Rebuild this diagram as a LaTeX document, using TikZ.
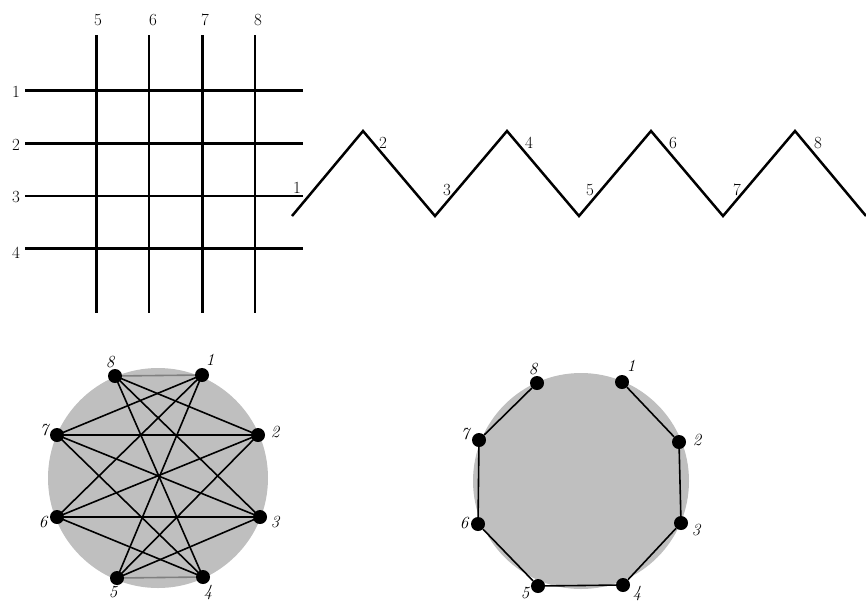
\documentclass[tikz,border=0pt]{standalone}
\usepackage{fontspec}
\begin{document}
\begin{tikzpicture}[x=1pt,y=-1pt,
  zig/.style={line width=2.5pt, line join=miter},
  lab/.style={font=\fontsize{17}{20}\selectfont, inner sep=0pt},
  vtx/.style={circle, fill=black, minimum size=14pt, inner sep=0pt},
  vlab/.style={font=\fontsize{17}{20}\selectfont\itshape, inner sep=0pt},
  gedge/.style={line width=1.6pt},
  faint/.style={line width=1.6pt, draw=black!50},
  disc/.style={fill=black!25}]
\useasboundingbox (0,0) rectangle (866,603);

% ---------- grid ----------
\foreach \y/\w in {90.5/2.6,143.5/2.4,195.7/2.4,248/3.0}
  \draw[line width=\w pt] (25,\y) -- (303,\y);
\foreach \x/\w in {96.7/2.6,149/2.2,202/3.0,255/2.4}
  \draw[line width=\w pt] (\x,35) -- (\x,313);
\node[lab] (r1) at (16,92) {1};
\node[lab] (r2) at (16,145) {2};
\node[lab] (r3) at (16,197) {3};
\node[lab] (r4) at (16,253) {4};
\node[lab] (c5) at (98,20) {5};
\node[lab] (c6) at (153,20) {6};
\node[lab] (c7) at (205,20) {7};
\node[lab] (c8) at (258,20) {8};

% ---------- zigzag ----------
\draw[zig] (292,216) -- (363,131) -- (435,216) -- (507,131) -- (579,216)
  -- (651,131) -- (723,216) -- (795,131) -- (866,216);
\node[lab] (z1) at (297,188) {1};
\node[lab] (z2) at (383,143) {2};
\node[lab] (z3) at (447,190) {3};
\node[lab] (z4) at (529,143) {4};
\node[lab] (z5) at (590,190) {5};
\node[lab] (z6) at (673,143) {6};
\node[lab] (z7) at (737,190) {7};
\node[lab] (z8) at (818,143) {8};

% ---------- left graph ----------
\fill[disc] (158,478) circle (110);
\coordinate (a1) at (202,375);
\coordinate (a2) at (258,435);
\coordinate (a3) at (260,517);
\coordinate (a4) at (203,577);
\coordinate (a5) at (117,578);
\coordinate (a6) at (57,517);
\coordinate (a7) at (57,435);
\coordinate (a8) at (115,376);
\draw[faint] (a1) -- (a8);
\draw[faint] (a4) -- (a5);
\foreach \i/\j in {1/5,1/6,1/7,2/5,2/6,2/7,2/8,3/5,3/6,3/7,3/8,4/6,4/7,4/8}
  \draw[gedge] (a\i) -- (a\j);
\foreach \i in {1,...,8} \node[vtx] (A\i) at (a\i) {};
\node[vlab] (la8) at (110,362) {8};
\node[vlab] (la1) at (210,360) {1};
\node[vlab] (la2) at (275,432) {2};
\node[vlab] (la3) at (275,522) {3};
\node[vlab] (la4) at (208,592) {4};
\node[vlab] (la5) at (113,592) {5};
\node[vlab] (la6) at (43,522) {6};
\node[vlab] (la7) at (44,430) {7};

% ---------- right graph ----------
\fill[disc] (581,481) circle (108);
\node[vtx] (B1) at (622,382) {};
\node[vtx] (B2) at (679,442) {};
\node[vtx] (B3) at (681,523) {};
\node[vtx] (B4) at (623,585) {};
\node[vtx] (B5) at (538,586) {};
\node[vtx] (B6) at (478,524) {};
\node[vtx] (B7) at (479,440) {};
\node[vtx] (B8) at (537,383) {};
\foreach \i/\j in {1/2,2/3,3/4,4/5,5/6,6/7,7/8}
  \draw[gedge] (B\i) -- (B\j);
\node[vlab] (lb8) at (533,369) {8};
\node[vlab] (lb1) at (631,366) {1};
\node[vlab] (lb2) at (697,440) {2};
\node[vlab] (lb3) at (696,530) {3};
\node[vlab] (lb4) at (637,593) {4};
\node[vlab] (lb5) at (525,593) {5};
\node[vlab] (lb6) at (464,523) {6};
\node[vlab] (lb7) at (465,434) {7};
\end{tikzpicture}
\end{document}
